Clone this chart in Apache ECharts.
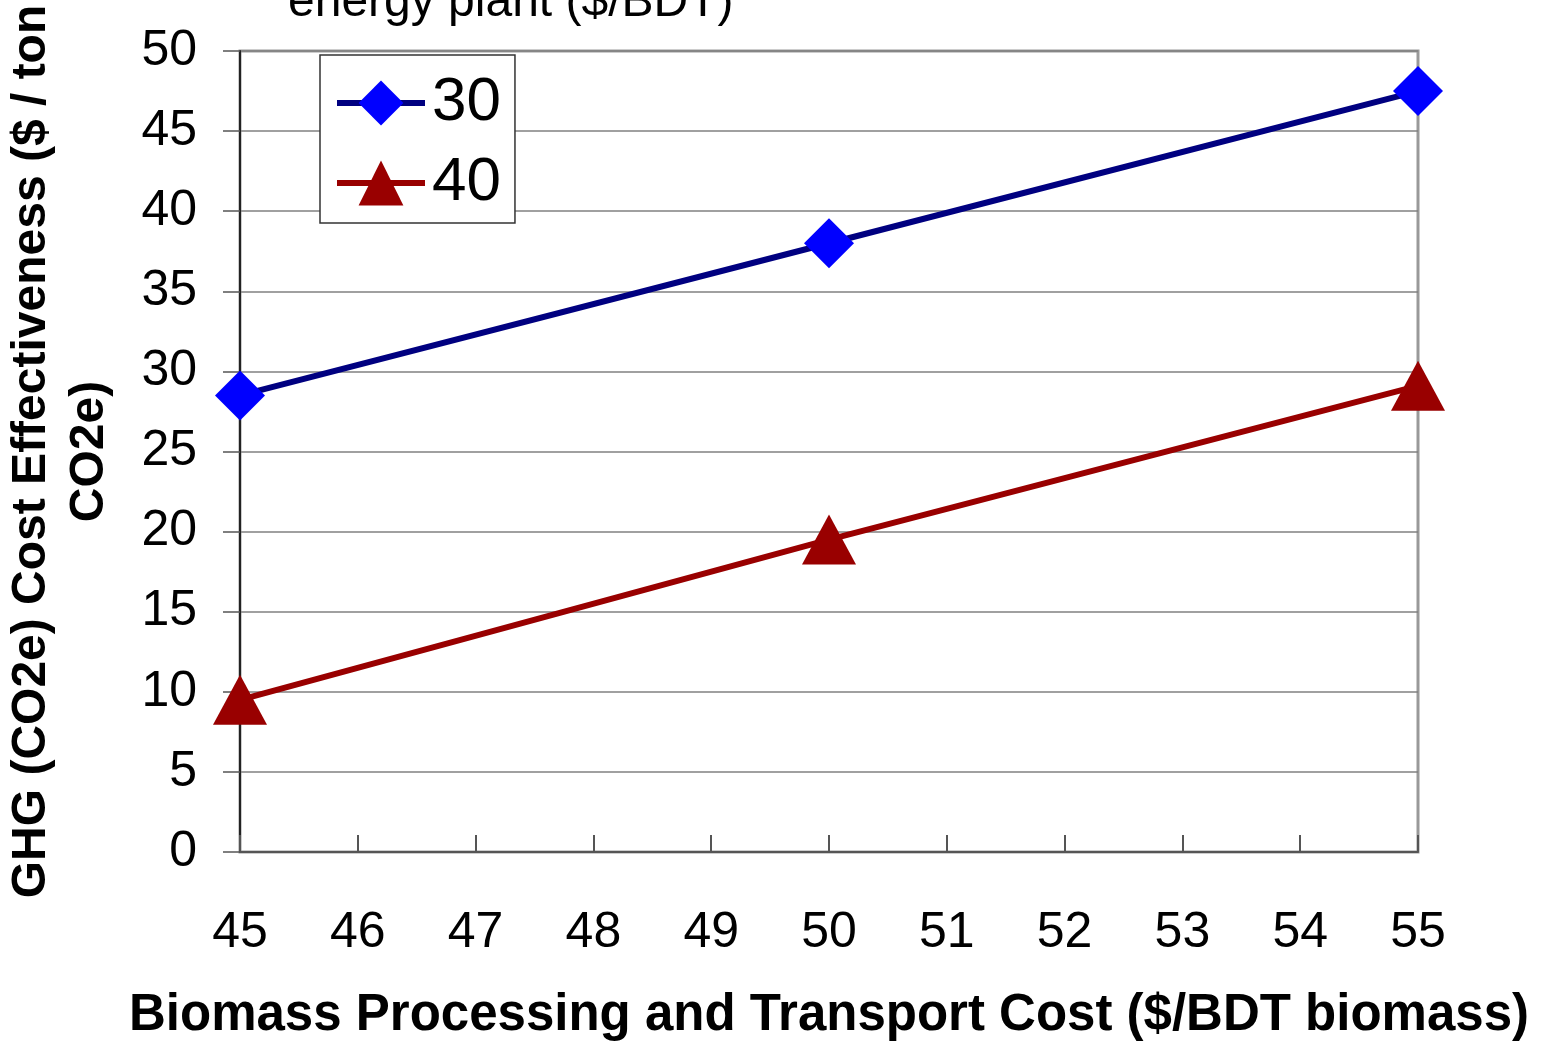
<!DOCTYPE html>
<html>
<head>
<meta charset="utf-8">
<script src="https://cdn.jsdelivr.net/npm/echarts@6/dist/echarts.min.js"></script>
<style>
  html, body { margin: 0; padding: 0; background: #fff; }
  #chart { width: 1548px; height: 1043px; }
</style>
</head>
<body>
<div id="chart"></div>
<script>
  // processing + transport cost, $/BDT biomass
  var xValues = [45, 50, 55]
  // sale price at energy plant ($/BDT) = 30
  var price30 = [28.5, 38.0, 47.5]
  // sale price at energy plant ($/BDT) = 40
  var price40 = [9.5, 19.5, 29.1]
  var seriesNames = ['30', '40']

  var FONT = '"Liberation Sans", Arial, sans-serif'

  function pairs(xs, ys) {
    return xs.map(function (x, i) { return [x, ys[i]] })
  }

  var chart = echarts.init(document.getElementById('chart'))
  chart.setOption({
    animation: false,
    backgroundColor: '#fff',
    title: {
      text: 'energy plant ($/BDT)',
      left: 288,
      top: -21,
      padding: 0,
      textStyle: { fontFamily: FONT, fontSize: 48, fontWeight: 'normal', color: '#000', lineHeight: 48 }
    },
    grid: {
      left: 240,
      right: 130,
      top: 51,
      bottom: 191,
      outerBoundsMode: 'none',
      show: true,
      borderColor: '#999',
      borderWidth: 3
    },
    legend: {
      data: seriesNames,
      orient: 'vertical',
      left: 320,
      top: 55,
      padding: [17, 14, 9, 14],
      itemWidth: 88,
      itemHeight: 56,
      itemGap: 18,
      backgroundColor: '#fff',
      borderColor: '#333',
      borderWidth: 1.5,
      lineStyle: { width: 6 },
      textStyle: { fontFamily: FONT, fontSize: 62, lineHeight: 62, color: '#000', padding: [0, 0, 0, 2] }
    },
    xAxis: {
      type: 'value',
      min: 45,
      max: 55,
      interval: 1,
      name: 'Biomass Processing and Transport Cost ($/BDT biomass)',
      nameLocation: 'middle',
      nameGap: 139,
      nameTextStyle: { fontFamily: FONT, fontSize: 51, fontWeight: 'bold', color: '#000', lineHeight: 50 },
      axisLine: { show: true, lineStyle: { color: '#555', width: 2 } },
      axisTick: { show: true, inside: true, length: 17, lineStyle: { color: '#555', width: 2 } },
      axisLabel: { fontFamily: FONT, fontSize: 50, lineHeight: 50, color: '#000', margin: 56 },
      splitLine: { show: false }
    },
    yAxis: {
      type: 'value',
      min: 0,
      max: 50,
      interval: 5,
      name: 'GHG (CO2e) Cost Effectiveness ($ / ton\nCO2e)',
      nameLocation: 'middle',
      nameGap: 121,
      nameTextStyle: { fontFamily: FONT, fontSize: 48, fontWeight: 'bold', color: '#000', lineHeight: 58, align: 'center' },
      axisLine: { show: true, lineStyle: { color: '#222', width: 2 } },
      axisTick: { show: true, length: 17, lineStyle: { color: '#555', width: 1.5 } },
      axisLabel: { fontFamily: FONT, fontSize: 50, color: '#000', margin: 43 },
      splitLine: { show: true, lineStyle: { color: '#808080', width: 1.5 } }
    },
    series: [
      {
        name: seriesNames[0],
        type: 'line',
        data: pairs(xValues, price30),
        symbol: 'diamond',
        symbolSize: [50, 50],
        itemStyle: { color: '#0000ff' },
        lineStyle: { color: '#000080', width: 6 },
        z: 3
      },
      {
        name: seriesNames[1],
        type: 'line',
        data: pairs(xValues, price40),
        symbol: 'triangle',
        symbolSize: [54, 50],
        itemStyle: { color: '#990000' },
        lineStyle: { color: '#990000', width: 6 },
        z: 3
      }
    ]
  })
</script>
</body>
</html>
